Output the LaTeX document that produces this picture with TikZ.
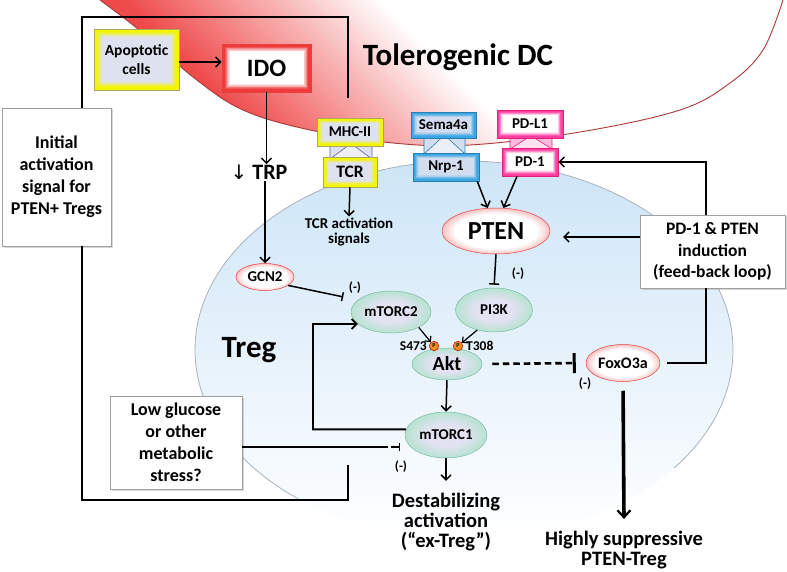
\documentclass[tikz,border=0pt]{standalone}
\usepackage{fontspec}
\setmainfont{Carlito}
\newfontfamily\dejavu{DejaVu Sans}
\usetikzlibrary{arrows.meta,shapes.geometric,calc,shadows}
\definecolor{dcred}{HTML}{EE4A4A}
\definecolor{dcline}{HTML}{A83A3A}
\definecolor{tregtop}{HTML}{CDE5F7}
\definecolor{tregline}{HTML}{A9B2BC}
\definecolor{yelo}{HTML}{F5F500}
\definecolor{yeli}{HTML}{DEE2EF}
\definecolor{yell}{HTML}{A8A860}
\definecolor{bluo}{HTML}{3AA6E2}
\definecolor{blui}{HTML}{D3DDF0}
\definecolor{blul}{HTML}{2B7DB6}
\definecolor{pnko}{HTML}{FF3DA0}
\definecolor{pnkl}{HTML}{E0207A}
\definecolor{redo}{HTML}{EE3A3A}
\definecolor{redl}{HTML}{E84040}
\definecolor{rglow}{HTML}{E83535}
\definecolor{gin}{HTML}{E3E2F2}
\definecolor{gout}{HTML}{9EE3BF}
\definecolor{gline}{HTML}{7DB9A2}
\definecolor{porange}{HTML}{F39020}
\pgfdeclareradialshading{redglow}{\pgfpoint{0bp}{0bp}}{color(0bp)=(white); color(19bp)=(white); color(29bp)=(rglow!50!white); color(35bp)=(rglow); color(50bp)=(rglow)}
\pgfdeclareradialshading{greenglow}{\pgfpoint{0bp}{0bp}}{color(0bp)=(gin); color(12bp)=(gin); color(32bp)=(gout); color(50bp)=(gout)}
\newcommand{\myfs}[2]{\fontsize{#1}{#2}\selectfont\bfseries}
\newcommand{\rcpconn}[6]{%
  \fill[#5] (#1,#3) rectangle (#2,#4);
  \fill[white, opacity=0.55] ({(#1+#2)/2-2},#3) -- ({(#1+#2)/2+2},#3) -- (#2,#4) -- (#1,#4) -- cycle;
  \draw[#6, line width=0.6pt] (#1,#3) -- (#1,#4) (#2,#3) -- (#2,#4) (#1,#4) -- ({(#1+#2)/2-2},#3) -- ({(#1+#2)/2+2},#3) -- (#2,#4);
}
\tikzset{
  every node/.style={font=\bfseries},
  glowbox/.style n args={4}{rectangle, inner sep=0pt, draw=#3, line width=0.6pt,
    drop shadow={shadow xshift=1.2pt, shadow yshift=-1.2pt, opacity=0.25},
    path picture={\foreach \i in {0,...,10}{\pgfmathtruncatemacro\pp{max(0,min(100,(10-\i)*14.3))}
      \fill[#1!\pp!#2] ([shift={(\i*#4,\i*#4)}]path picture bounding box.north west) rectangle ([shift={(-\i*#4,-\i*#4)}]path picture bounding box.south east);}}},
  ybox/.style={glowbox={yelo}{yeli}{yell}{#1}}, ybox/.default=0.8,
  bbox/.style={glowbox={bluo}{blui}{blul}{#1}}, bbox/.default=0.55,
  pbox/.style={glowbox={pnko}{white}{pnkl}{#1}}, pbox/.default=0.55,
  redell/.style={ellipse, inner sep=0pt, shade, shading=redglow, draw=redl, line width=0.5pt},
  grell/.style={ellipse, inner sep=0pt, shade, shading=greenglow, draw=gline, line width=0.5pt, font=\myfs{15}{15}},
  wbox/.style={rectangle, draw=gray!75, line width=0.6pt, fill=white, align=center, inner sep=0pt,
    drop shadow={shadow xshift=1.5pt, shadow yshift=-1.5pt, opacity=0.3}},
  pcirc/.style={circle, fill=porange, draw=red!70!black, line width=0.5pt, minimum size=9.5pt, inner sep=0pt, font=\fontsize{6}{6}\selectfont\bfseries},
  minus/.style={font=\myfs{13}{13}, inner sep=0pt},
  arr/.style={-{Straight Barb[length=5pt,width=10pt]}, line width=1.5pt},
  arrs/.style={-{Straight Barb[length=4pt,width=8pt]}, line width=1.2pt},
  inh/.style={-{Bar[width=10pt]}, line width=1.5pt},
  dashinh/.style={-{Bar[width=20pt, line width=3pt]}, line width=2.6pt, dash pattern=on 6.5pt off 4pt},
  bigarr/.style={-{Straight Barb[length=7pt,width=13pt, line width=2.2pt]}, line width=3.6pt},
  bracket/.style={line width=2pt}
}
\begin{document}
\begin{tikzpicture}[x=1pt, y=-1pt]
\fill[white] (0,0) rectangle (787,572);
\useasboundingbox (0,0) rectangle (787,572);
% Tolerogenic DC
\begin{scope}
\clip (95,-10) -- plot[smooth, tension=0.6] coordinates {(100,0) (143,33) (193,77) (243,110) (310,130) (393,143) (470,145) (580,132) (680,110) (730,83) (763,50) (783,0)} -- (795,-10) -- cycle;
\fill[dcred] (0,-10) -- (90,-10) -- (260,160) -- (0,160) -- cycle;
\foreach \v in {100,103,...,400}{\pgfmathtruncatemacro\pp{max(0,min(100,(380-\v)/2.6))}
  \fill[dcred!\pp!white] (\v-10,-10) -- (\v-6.4,-10) -- (\v+163.6,160) -- (\v+160,160) -- cycle;}
\end{scope}
\draw[dcline, line width=0.9pt] plot[smooth, tension=0.6] coordinates {(100,0) (143,33) (193,77) (243,110) (310,130) (393,143) (470,145) (580,132) (680,110) (730,83) (763,50) (783,0)};
% Treg cell
\shade[top color=tregtop, bottom color=white] (464,350) ellipse [x radius=269, y radius=189];
\draw[tregline, line width=0.8pt] (298.4,498.9) arc[start angle=128, end angle=398.7, x radius=269, y radius=189];
% receptor junctions
\rcpconn{330}{372}{145}{159}{yeli}{gray!70!blue}
\rcpconn{424}{465}{137}{154}{blui}{blul}
\rcpconn{510}{552}{137}{149}{pnko!35!white}{pnkl}
% nodes
\node[ybox, minimum width=85pt, minimum height=61pt, align=center, font=\myfs{15.5}{19}] (apop) at (136.5,59.5) {Apoptotic\\cells};
\node[glowbox={redo}{white}{redl}{0.75}, minimum width=89pt, minimum height=48pt, font=\myfs{25}{25}] (ido) at (266.5,68) {IDO};
\node[anchor=base, font=\myfs{22}{22}, inner sep=1pt] (trp) at (259,180) {{\dejavu\mdseries\fontsize{20}{20}\selectfont ↓} TRP};
\node[redell, minimum width=58pt, minimum height=27pt, font=\myfs{15}{15}] (gcn2) at (265,277) {GCN2};
\node[ybox=0.55, minimum width=66pt, minimum height=28pt, font=\myfs{15}{15}] (mhc) at (350,132) {MHC-II};
\node[ybox=0.6, minimum width=54pt, minimum height=30pt, font=\myfs{17.5}{17}] (tcr) at (350,172) {TCR};
\node[bbox, minimum width=65pt, minimum height=26pt, font=\myfs{15}{15}] (sema) at (443.5,125) {Sema4a};
\node[bbox, minimum width=66pt, minimum height=28pt, font=\myfs{15}{15}] (nrp) at (446,167) {Nrp-1};
\node[pbox, minimum width=66pt, minimum height=28pt, font=\myfs{15}{15}] (pdl1) at (530,124) {PD-L1};
\node[pbox, minimum width=56pt, minimum height=28pt, font=\myfs{15}{15}] (pd1) at (530,162) {PD-1};
\node[align=center, font=\myfs{15}{15.5}, inner sep=1pt] (tcrsig) at (349,232) {TCR activation\\signals};
\node[redell, minimum width=108pt, minimum height=46pt, font=\myfs{26}{26}] (pten) at (496,231) {PTEN};
\node[grell, minimum width=77pt, minimum height=44pt] (pi3k) at (494,310) {PI3K};
\node[grell, minimum width=80pt, minimum height=42pt] (mtorc2) at (391,312) {mTORC2};
\node[grell, minimum width=70pt, minimum height=32pt, font=\myfs{20}{20}] (akt) at (447,364) {Akt};
\node[grell, minimum width=82pt, minimum height=46pt] (mtorc1) at (446,435) {mTORC1};
\node[redell, minimum width=74pt, minimum height=37pt, font=\myfs{16}{16}] (foxo) at (623,363) {FoxO3a};
\node[pcirc] (p1) at (434,346) {P};
\node[pcirc] (p2) at (458,346) {P};
\node[anchor=east, font=\myfs{13.5}{13.5}, inner sep=0pt] (s473) at (427,346) {S473};
\node[anchor=west, font=\myfs{13.5}{13.5}, inner sep=0pt] (t308) at (466,346) {T308};
\node[wbox, minimum width=109pt, minimum height=138pt, font=\myfs{18}{22}] (initbox) at (56.5,177) {Initial\\activation\\signal for\\PTEN+ Tregs};
\node[wbox, minimum width=145pt, minimum height=73pt, font=\myfs{17.5}{21.5}] (pdbox) at (712.5,251.5) {PD-1 \& PTEN\\induction\\(feed-back loop)};
\node[wbox, minimum width=132pt, minimum height=93pt, font=\myfs{18}{22}] (lowbox) at (176,442.5) {Low glucose\\or other\\metabolic\\stress?};
\node[align=center, font=\myfs{20.5}{20}, inner xsep=0pt, inner ysep=12pt] (destab) at (446,522) {Destabilizing\\activation\\(“ex-Treg”)};
\node[align=center, font=\myfs{20.5}{20}, inner xsep=0pt, inner ysep=12pt] (highly) at (624,550) {Highly suppressive\\PTEN-Treg};
\node[font=\myfs{31}{31}] (dclabel) at (458,57) {Tolerogenic DC};
\node[font=\myfs{31}{31}] (treglabel) at (249,350) {Treg};
\node[minus] (m1) at (355,288) {(-)};
\node[minus] (m2) at (518,274) {(-)};
\node[minus] (m3) at (585,384) {(-)};
\node[minus] (m4) at (401,467) {(-)};
\coordinate (ptenin) at (563,237);
\coordinate (fbx) at (313,324);
\coordinate (lgend) at (400,447);
% brackets
\draw[bracket] ([xshift=25.5pt]initbox.north) -- ++(0,-91) -- ++(266,0) -- ++(0,81);
\draw[bracket] ([xshift=25.5pt]initbox.south) -- ++(0,254) -- ++(266,0) -- ++(0,-35);
% connectors
\draw[arr] ([yshift=-2.5pt]apop.east) -- ([yshift=6pt]ido.west);
\draw[arr] (ido.south) -- (trp.north -| ido.south);
\draw[arr] (trp.south -| gcn2.north) -- (gcn2.north);
\draw[inh, -{Bar[width=9pt]}, shorten >=15pt] (gcn2.-20) -- (mtorc2.160);
\draw[arr] (tcr.south) -- (tcrsig.north);
\draw[arr] ([xshift=-2pt]nrp.south east) -- (pten.110);
\draw[arr] ([xshift=-13pt]pd1.south) -- (pten.72);
\draw[arr] ([xshift=-6.5pt]pdbox.north) |- (pd1.east);
\draw[arr] (pdbox.west |- ptenin) -- (ptenin);
\draw[line width=1.5pt, shorten >=7pt] ([xshift=-6.5pt]pdbox.south) |- (foxo.east);
\draw[inh, shorten >=3pt] (pten.south) -- (pi3k.north);
\draw[arrs] (mtorc2.-29) -- (p1);
\draw[arrs] (pi3k.-130) -- (p2);
\draw[arr] (akt.south) -- (mtorc1.north);
\draw[arr] (mtorc1.south) -- (destab.north);
\draw[arr, line width=1.8pt] (mtorc1.172) -| (fbx) -- (mtorc2.200);
\draw[dashinh, shorten <=10pt, shorten >=10pt] (akt.east) -- (foxo.west);
\draw[inh, -{Bar[width=8pt]}, dash pattern=on 146pt off 2.5pt on 30pt] (lowbox.east |- lgend) -- (lgend);
\draw[bigarr, shorten <=9pt] (foxo.south) -- (highly.north);
\end{tikzpicture}
\end{document}
